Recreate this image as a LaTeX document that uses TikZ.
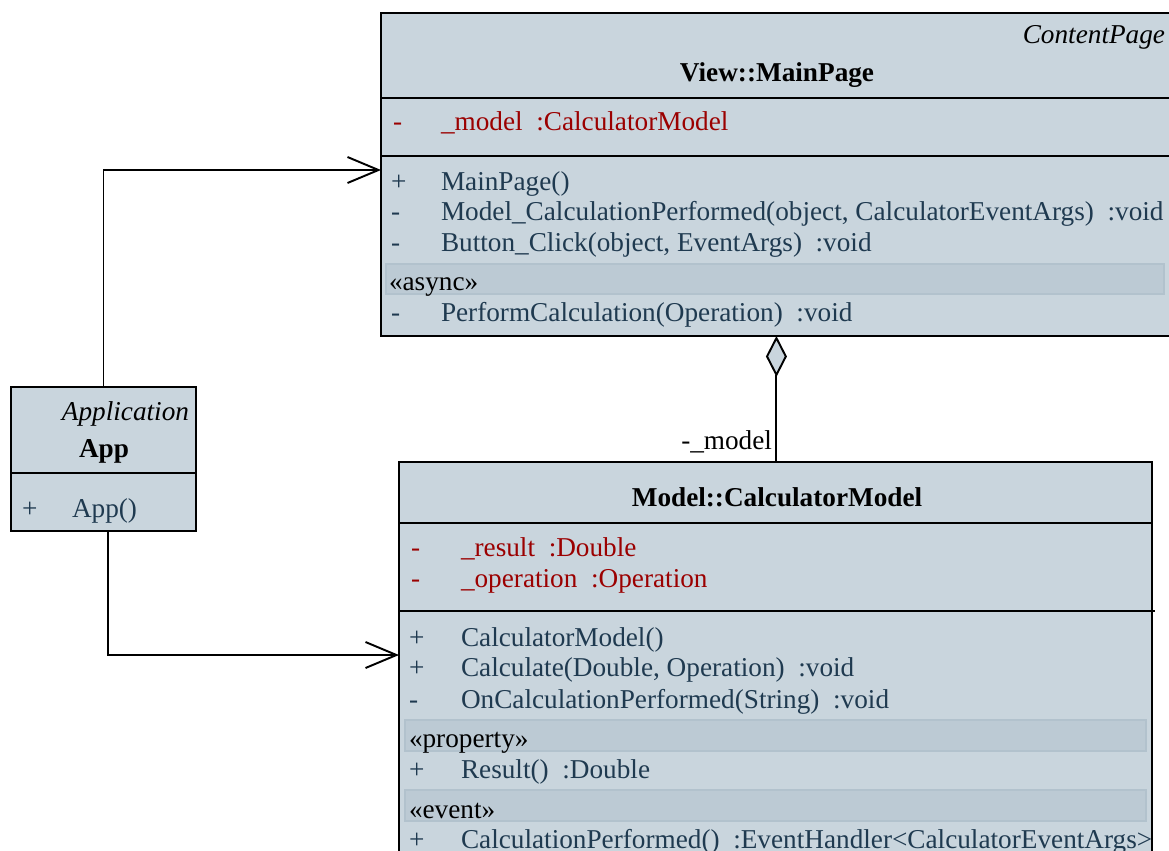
\documentclass[tikz,border=0pt]{standalone}
\usepackage{fontspec}
\setmainfont{Liberation Serif}
\usepackage{xcolor}
\usetikzlibrary{positioning,arrows.meta}

\definecolor{umlfill}{HTML}{C9D5DD}
\definecolor{umlband}{HTML}{BCCAD4}
\definecolor{umlbandline}{HTML}{B2C2CD}
\definecolor{umlop}{HTML}{1F3A50}
\definecolor{umlattr}{HTML}{9B0000}

\begin{document}
\begin{tikzpicture}[x=0.02cm,y=-0.02cm,
  every node/.style={font=\fontsize{15.5}{18}\selectfont,inner sep=0pt,outer sep=0pt},
  classbox/.style={draw,fill=umlfill,line width=1.1pt,anchor=north west},
  band/.style={draw=umlbandline,fill=umlband,line width=0.6pt},
  op/.style={anchor=base west,text=umlop},
  attr/.style={anchor=base west,text=umlattr},
  assoc/.style={line width=1.1pt,-{Straight Barb[length=0.62cm,width=0.52cm,line width=1.1pt]}}]
\useasboundingbox (0,0) rectangle (1169,850);
\clip (0,0) rectangle (1169,850);

% Class View::MainPage
\node[classbox,minimum width=15.82cm,minimum height=6.46cm] (mainpage) at (381,13) {};
\draw[line width=1.1pt] (381,97.7) -- (1172,97.7);
\draw[line width=1.1pt] (381,155.7) -- (1172,155.7);
\node[anchor=base east,font=\fontsize{15.5}{18}\selectfont\itshape] (mpstereo) at (1165,43.3) {ContentPage};
\node[anchor=base,font=\fontsize{15.5}{18}\selectfont\bfseries] (mptitle) at (777,81.7) {View::MainPage};
\node[attr] at (393,130.7) {-};
\node[attr] at (441,130.7) {\_model\ \ :CalculatorModel};
\foreach \y/\v/\t in {190/+/{MainPage()},
    220.7/-/{Model\_CalculationPerformed(object, CalculatorEventArgs)\ \ :void},
    251.7/-/{Button\_Click(object, EventArgs)\ \ :void},
    321.7/-/{PerformCalculation(Operation)\ \ :void}} {
  \node[op] at (391,\y) {\v};
  \node[op] at (441,\y) {\t};
}
\draw[band] (386,264) rectangle (1164,294);
\node[anchor=base west] at (389,290) {«async»};

% Class App
\node[classbox,minimum width=3.7cm,minimum height=2.88cm] (app) at (11,387.3) {};
\draw[line width=1.1pt] (11,472.7) -- (196,472.7);
\node[anchor=base east,font=\fontsize{15.5}{18}\selectfont\itshape] (appstereo) at (189,420.7) {Application};
\node[anchor=base,font=\fontsize{15.5}{18}\selectfont\bfseries] (apptitle) at (104,457.3) {App};
\node[op] at (22,517.3) {+};
\node[op] at (72,517.3) {App()};

% Class Model::CalculatorModel
\node[classbox,minimum width=15.06cm,minimum height=9cm] (calcmodel) at (399,462.3) {};
\draw[line width=1.1pt] (399,522.7) -- (1152,522.7);
\draw[line width=1.1pt] (399,611) -- (1155,611);
\node[anchor=base,font=\fontsize{15.5}{18}\selectfont\bfseries] (cmtitle) at (777,506.7) {Model::CalculatorModel};
\node[attr] at (411,556.7) {-};
\node[attr] at (461,556.7) {\_result\ \ :Double};
\node[attr] at (411,587.7) {-};
\node[attr] at (461,587.7) {\_operation\ \ :Operation};
\foreach \y/\v/\t in {646/+/{CalculatorModel()},
    676.7/+/{Calculate(Double, Operation)\ \ :void},
    708.3/-/{OnCalculationPerformed(String)\ \ :void},
    778.3/+/{Result()\ \ :Double},
    848/+/{CalculationPerformed()\ \ :EventHandler<CalculatorEventArgs>}} {
  \node[op] at (409,\y) {\v};
  \node[op] at (461,\y) {\t};
}
\draw[band] (405,720) rectangle (1146,751);
\node[anchor=base west] at (409,747) {«property»};
\draw[band] (405,790) rectangle (1146,821);
\node[anchor=base west] at (409,818) {«event»};

% Associations
\coordinate (mpin) at (381,170);
\coordinate (cmin) at (399,655);
\draw[assoc] (app.north) |- (mpin);
\draw[assoc] ([xshift=0.09cm]app.south) |- (cmin);

% Aggregation
\draw[line width=1.1pt,{Diamond[fill=umlfill,length=0.82cm,width=0.42cm,line width=1.1pt]}-] (mainpage.south) -- (mainpage.south |- calcmodel.north);
\node[anchor=base east] (rolelbl) at (772,449) {-\_model};
\end{tikzpicture}
\end{document}
